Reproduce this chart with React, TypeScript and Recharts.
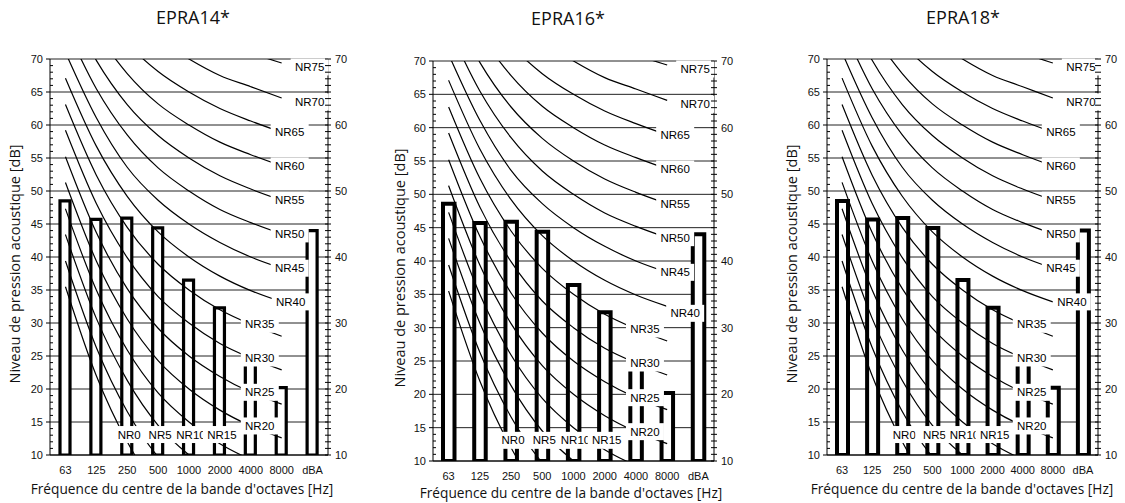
import React from 'react';
import { ComposedChart, Bar, Line, XAxis, YAxis, CartesianGrid, ReferenceDot } from 'recharts';

// ---------- data ----------
const bands = ['63', '125', '250', '500', '1000', '2000', '4000', '8000', 'dBA'];

const levelsEPRA14 = [48.5, 45.7, 45.9, 44.4, 36.5, 32.3, 24.0, 20.2, 44.0];
const levelsEPRA16 = [48.6, 45.7, 45.9, 44.4, 36.4, 32.3, 24.0, 20.2, 44.0];
const levelsEPRA18 = [48.5, 45.7, 45.9, 44.4, 36.5, 32.3, 24.0, 20.2, 44.0];

const titles = ['EPRA14*', 'EPRA16*', 'EPRA18*'];

const nrLevels = [0, 5, 10, 15, 20, 25, 30, 35, 40, 45, 50, 55, 60, 65, 70, 75];
const NR0 = [35.5, 22.0, 12.0, 4.8, 0.0, -3.5, -6.1, -8.0];
const NR5 = [39.4, 26.3, 16.6, 9.7, 5.0, 1.6, -1.0, -2.8];
const NR10 = [43.4, 30.7, 21.3, 14.5, 10.0, 6.6, 4.2, 2.3];
const NR15 = [47.3, 35.0, 25.9, 19.4, 15.0, 11.7, 9.3, 7.4];
const NR20 = [51.3, 39.4, 30.6, 24.3, 20.0, 16.8, 14.4, 12.6];
const NR25 = [55.2, 43.7, 35.2, 29.2, 25.0, 21.9, 19.5, 17.7];
const NR30 = [59.2, 48.1, 39.9, 34.0, 30.0, 26.9, 24.7, 22.9];
const NR35 = [63.1, 52.4, 44.5, 38.9, 35.0, 32.0, 29.8, 28.0];
const NR40 = [67.1, 56.8, 49.2, 43.8, 40.0, 37.1, 34.9, 33.2];
const NR45 = [71.0, 61.1, 53.6, 48.6, 45.0, 42.2, 40.0, 38.3];
const NR50 = [75.0, 65.5, 58.5, 53.5, 50.0, 47.2, 45.2, 43.5];
const NR55 = [78.9, 69.8, 63.1, 58.4, 55.0, 52.3, 50.3, 48.6];
const NR60 = [82.9, 74.2, 67.8, 63.2, 60.0, 57.4, 55.5, 53.8];
const NR65 = [86.8, 78.5, 72.4, 68.1, 65.0, 62.5, 60.6, 58.9];
const NR70 = [90.8, 82.9, 77.1, 73.0, 70.0, 67.5, 65.8, 64.1];
const NR75 = [94.7, 87.2, 81.7, 77.9, 75.0, 72.6, 70.9, 69.4];
const nrCurves = [NR0, NR5, NR10, NR15, NR20, NR25, NR30, NR35, NR40, NR45, NR50, NR55, NR60, NR65, NR70, NR75];

const leftMajorTicks = [10, 15, 20, 25, 30, 35, 40, 45, 50, 55, 60, 65, 70];
const rightMajorTicks = [10, 20, 30, 40, 50, 60, 70];
const bottomLabelLevel = 13.1;

const xTitle = "Fréquence du centre de la bande d'octaves [Hz]";
const yTitle = 'Niveau de pression acoustique [dB]';

// ---------- layout / style ----------
const panels = [
  { levels: levelsEPRA14, offsetX: 0, L: 50, R: 328, T: 59, B: 455, barSize: 10, barStroke: 3.2,
    nr40dx: 9, nr40dy: 0, titleX: 193, titleY: 17, xTitleX: 182, xTitleY: 489, yTitleX: 15, yTitleY: 264 },
  { levels: levelsEPRA16, offsetX: 375, L: 433, R: 714, T: 61, B: 461, barSize: 11.5, barStroke: 4,
    nr40dx: 18, nr40dy: 7, titleX: 568, titleY: 18, xTitleX: 571, xTitleY: 493, yTitleX: 400, yTitleY: 268 },
  { levels: levelsEPRA18, offsetX: 750, L: 827, R: 1098, T: 59, B: 455, barSize: 11, barStroke: 4,
    nr40dx: 19, nr40dy: 0, titleX: 963, titleY: 17, xTitleX: 962, xTitleY: 489, yTitleX: 792, yTitleY: 264 },
];

const ARIAL = '"Liberation Sans", Arial, sans-serif';
const CAL = '"Open Sans", "Noto Sans", sans-serif';

function Panel({ p }: { p: any }) {
  const W = 375, H = 503, leftW = 40, rightW = 25, xH = 30;
  const margin = { top: p.T, left: p.L - p.offsetX - leftW, right: p.offsetX + W - p.R - rightW, bottom: H - p.B - xH };
  const axL = p.L - p.offsetX;
  const axR = p.R - p.offsetX;
  const px = (p.B - p.T) / 60;

  const data = bands.map((b, i) => {
    const row: any = { band: b, level: p.levels[i] };
    nrCurves.forEach((c, k) => { row['nr' + nrLevels[k]] = c[i] === undefined ? null : c[i]; });
    return row;
  });

  const labels = nrLevels.map((n, k) => {
    const c = nrCurves[k];
    if (n <= 15) return { name: 'NR' + n, band: bands[2 + k], value: bottomLabelLevel, dx: 2, dy: 0 };
    if (n <= 35) return { name: 'NR' + n, band: '4000', value: c[6], dx: 9, dy: 0 };
    if (n === 40) return { name: 'NR' + n, band: '8000', value: c[7], dx: p.nr40dx, dy: p.nr40dy };
    if (n <= 65) return { name: 'NR' + n, band: '8000', value: c[7], dx: 8, dy: 0 };
    return { name: 'NR' + n, band: '8000', value: c[7], dx: 28, dy: 4 };
  });

  const LeftTick = (props: any) => {
    const { y, payload } = props;
    const v = payload.value;
    const minors = v > 10 ? [1, 2, 3, 4] : [];
    return (
      <g>
        <line x1={axL - 4} x2={axL} y1={y} y2={y} stroke="#000" />
        {minors.map((k) => (
          <line key={k} x1={axL} x2={axL + 3} y1={y + k * px} y2={y + k * px} stroke="#000" />
        ))}
        <text x={axL - 7} y={y} textAnchor="end" dominantBaseline="central" fontSize={11} fontFamily={ARIAL} fill="#111">{v}</text>
      </g>
    );
  };

  const RightTick = (props: any) => {
    const { y, payload } = props;
    const v = payload.value;
    const minors = v > 10 ? [0, 1, 2, 3, 4, 5, 6, 7, 8, 9] : [0];
    return (
      <g>
        {minors.map((k) => (
          <line key={k} x1={axR - 3} x2={axR + 3} y1={y + k * px} y2={y + k * px} stroke="#000" />
        ))}
        <text x={axR + 7} y={y} textAnchor="start" dominantBaseline="central" fontSize={11} fontFamily={ARIAL} fill="#111">{v}</text>
      </g>
    );
  };

  const renderLabel = (lab: any) => (sp: any) => {
    const w = 38;
    const cx = sp.cx + lab.dx;
    const cy = sp.cy + lab.dy;
    return (
      <g>
        <rect x={cx - w / 2} y={cy - 8.5} width={w} height={17} fill="#fff" />
        <text x={cx} y={cy} textAnchor="middle" dominantBaseline="central" fontSize={11.5} fontFamily={ARIAL} fill="#000">{lab.name}</text>
      </g>
    );
  };

  return (
    <div style={{ position: 'absolute', left: p.offsetX, top: 0, width: W, height: H }}>
      <ComposedChart width={W} height={H} data={data} margin={margin}>
        <CartesianGrid horizontal vertical={false} stroke="#222" strokeWidth={1} />
        <XAxis dataKey="band" height={xH} tickLine={false} tickSize={0} tickMargin={11} interval={0}
          axisLine={{ stroke: '#000' }} tick={{ fontSize: 11, fontFamily: ARIAL, fill: '#111' }} />
        <YAxis width={leftW} domain={[10, 70]} allowDataOverflow ticks={leftMajorTicks} interval={0}
          tickLine={false} tickSize={0} axisLine={{ stroke: '#000' }} tick={LeftTick} />
        <YAxis yAxisId="r" orientation="right" width={rightW} domain={[10, 70]} allowDataOverflow
          ticks={rightMajorTicks} interval={0} tickLine={false} tickSize={0} axisLine={{ stroke: '#000' }} tick={RightTick} />
        {nrLevels.map((n) => (
          <Line key={n} dataKey={'nr' + n} type="monotone" stroke="#000" strokeWidth={1.2} dot={false}
            activeDot={false} isAnimationActive={false} connectNulls={false} />
        ))}
        <Bar dataKey="level" barSize={p.barSize} fill="#fff" stroke="#000" strokeWidth={p.barStroke} isAnimationActive={false} />
        {labels.map((lab) => (
          <ReferenceDot key={lab.name} x={lab.band} y={lab.value} ifOverflow="visible" shape={renderLabel(lab)} />
        ))}
      </ComposedChart>
    </div>
  );
}

function CText({ x, y, size, rotate, children }: any) {
  return (
    <div style={{ position: 'absolute', left: x, top: y, transform: `translate(-50%, -50%)${rotate ? ' rotate(-90deg)' : ''}`,
      whiteSpace: 'nowrap', fontFamily: CAL, fontSize: size, lineHeight: 1, color: '#111' }}>
      {children}
    </div>
  );
}

export default function App() {
  return (
    <div style={{ position: 'absolute', left: 0, top: 0, width: 1125, height: 503, background: '#fff', overflow: 'hidden' }}>
      {panels.map((p, i) => (
        <React.Fragment key={i}>
          <Panel p={p} />
          <CText x={p.titleX} y={p.titleY} size={18}>{titles[i]}</CText>
          <CText x={p.xTitleX} y={p.xTitleY} size={13.7}>{xTitle}</CText>
          <CText x={p.yTitleX} y={p.yTitleY} size={14.5} rotate>{yTitle}</CText>
        </React.Fragment>
      ))}
    </div>
  );
}
